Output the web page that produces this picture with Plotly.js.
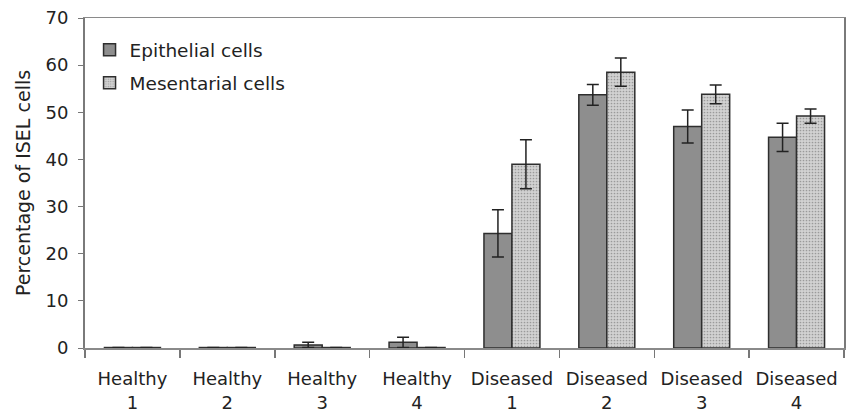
<!DOCTYPE html>
<html>
<head>
<meta charset="utf-8">
<script src="https://cdn.plot.ly/plotly-3.0.1.min.js"></script>
<style>html,body{margin:0;padding:0;background:#fff;}#chart{width:853px;height:414px;}</style>
</head>
<body>
<div id="chart"></div>
<script>
var categories = ["Healthy<br>1","Healthy<br>2","Healthy<br>3","Healthy<br>4","Diseased<br>1","Diseased<br>2","Diseased<br>3","Diseased<br>4"];
var epithelial = [0.1, 0.1, 0.65, 1.2, 24.3, 53.7, 47.0, 44.7];
var epithelialErr = [0, 0, 0.55, 1.1, 5.0, 2.2, 3.5, 3.0];
var mesentarial = [0.1, 0.1, 0.1, 0.1, 39.0, 58.5, 53.8, 49.2];
var mesentarialErr = [0, 0, 0, 0, 5.2, 3.0, 2.0, 1.5];
var yTicks = [0, 10, 20, 30, 40, 50, 60, 70];

var font = "DejaVu Sans, Verdana, sans-serif";
var traces = [
  {
    type: "bar", name: "Epithelial cells", x: categories, y: epithelial, legendgroup: "a",
    marker: {color: "#8e8e8e", line: {color: "#2e2e2e", width: 1.5}},
    error_y: {type: "data", array: epithelialErr, visible: true, color: "#222", thickness: 1.5, width: 6}
  },
  {
    type: "bar", name: "Mesentarial cells", x: categories, y: mesentarial, legendgroup: "b",
    marker: {color: "#cacaca", line: {color: "#2e2e2e", width: 1.5},
      pattern: {shape: ".", fgcolor: "#9a9a9a", bgcolor: "#d2d2d2", size: 3, solidity: 0.25}},
    error_y: {type: "data", array: mesentarialErr, visible: true, color: "#222", thickness: 1.5, width: 6}
  }
];

var layout = {
  width: 853, height: 414,
  margin: {l: 85, r: 9, t: 18, b: 66},
  paper_bgcolor: "#fff", plot_bgcolor: "#fff",
  barmode: "group", bargap: 0.41, bargroupgap: 0,
  font: {family: font, color: "#222", size: 16},
  showlegend: true,
  legend: {x: 0.006, y: 0.96, xanchor: "left", yanchor: "top", bgcolor: "rgba(0,0,0,0)",
    traceorder: "grouped", tracegroupgap: 6, itemwidth: 30,
    font: {family: font, size: 18.5, color: "#222"}},
  xaxis: {
    type: "category", tickson: "boundaries", ticks: "outside", ticklen: 8, tickcolor: "#777", tickwidth: 1.5,
    showline: true, linecolor: "#8a8a8a", linewidth: 1.5, mirror: true, showgrid: false,
    ticklabelstandoff: 14,
    tickfont: {family: font, size: 18, color: "#222"}, fixedrange: true
  },
  yaxis: {
    range: [0, 70], tickvals: yTicks, ticktext: yTicks.map(String), ticks: "outside", ticklen: 5, tickcolor: "#777",
    showline: true, linecolor: "#7a7a7a", linewidth: 2, mirror: true, showgrid: false, zeroline: false,
    ticklabelstandoff: 6,
    tickfont: {family: font, size: 18, color: "#222"},
    title: {text: "Percentage of ISEL cells", font: {family: font, size: 19, color: "#222"}, standoff: 10}
  }
};

Plotly.newPlot("chart", traces, layout, {displayModeBar: false, staticPlot: true});
</script>
</body>
</html>
